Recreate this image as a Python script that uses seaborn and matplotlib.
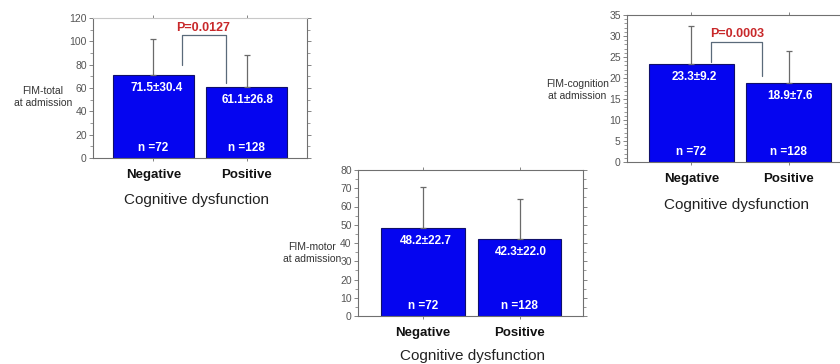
import matplotlib
matplotlib.use("Agg")
import matplotlib.pyplot as plt
from matplotlib.ticker import MultipleLocator
import seaborn as sns
import pandas as pd

# ---- data ----
categories = ["Negative", "Positive"]
n_counts = [72, 128]
total_mean = [71.5, 61.1]
total_sd = [30.4, 26.8]
motor_mean = [48.2, 42.3]
motor_sd = [22.7, 22.0]
cog_mean = [23.3, 18.9]
cog_sd = [9.2, 7.6]
p_total = "P=0.0127"
p_cog = "P=0.0003"
x_title = "Cognitive dysfunction"

sns.set_theme(style="white")
plt.rcParams['font.family'] = ['Liberation Sans', 'DejaVu Sans']
NARROW = ['Liberation Sans Narrow', 'Liberation Sans', 'DejaVu Sans']

W, H = 840, 364
fig = plt.figure(figsize=(W / 100, H / 100), dpi=100)

BAR = "#0505f0"
EDGE = "#10106a"
ERR = "#6a6a6a"
SPINE = "#707070"
BRK = "#5a6a7a"
PRED = "#c8282a"


def px_axes(l, t, r, b):
    return fig.add_axes([l / W, 1 - b / H, (r - l) / W, (b - t) / H])


def panel(ax, means, sds, ymax, major, minor, xlim, top_spine_color):
    df = pd.DataFrame({"group": categories, "value": means})
    sns.barplot(data=df, x="group", y="value", ax=ax, color=BAR, saturation=1,
                width=0.87, edgecolor=EDGE, linewidth=0.8, errorbar=None)
    ax.errorbar(x=[0, 1], y=means, yerr=[[0, 0], sds], fmt="none",
                ecolor=ERR, elinewidth=0.9, capsize=2, capthick=0.9, zorder=1)
    ax.set_ylim(0, ymax)
    ax.set_xlim(*xlim)
    ax.yaxis.set_major_locator(MultipleLocator(major))
    ax.yaxis.set_minor_locator(MultipleLocator(minor))
    ax.tick_params(axis="y", which="major", direction="out", length=3, width=0.6,
                   color=SPINE, left=True, right=True, labelsize=7.5,
                   labelcolor="#555555", pad=1.5)
    ax.tick_params(axis="y", which="minor", direction="out", length=2, width=0.5,
                   color=SPINE, left=True, right=True)
    ax.tick_params(axis="x", which="major", direction="out", length=2, width=0.6,
                   color=SPINE, bottom=True, top=True, labelsize=9.5, pad=6,
                   labelcolor="#111111")
    for lab in ax.get_yticklabels():
        lab.set_family(NARROW)
    for lab in ax.get_xticklabels():
        lab.set_fontweight("bold")
    ax.set_xlabel("")
    ax.set_ylabel("")
    for s in ["left", "right", "bottom"]:
        ax.spines[s].set_color(SPINE)
        ax.spines[s].set_linewidth(0.8)
    ax.spines["top"].set_color(top_spine_color)
    ax.spines["top"].set_linewidth(0.8)
    for i, (m, sd, n) in enumerate(zip(means, sds, n_counts)):
        ax.annotate(f"{m}\u00b1{sd}", xy=(i, m), xytext=(2 if i == 0 else 1, -9.5),
                    textcoords="offset points", ha="center", va="center",
                    color="white", fontweight="bold", fontsize=8.5)
        ax.annotate(f"n ={n}", xy=(i, 0), xytext=(0, 7.5),
                    textcoords="offset points", ha="center", va="center",
                    color="white", fontweight="bold", fontsize=8.5)


def bracket(ax, xl, yl, xr, yr, ytop, text, xt):
    ax.plot([xl, xl, xr, xr], [yl, ytop, ytop, yr], color=BRK, lw=0.9, zorder=3)
    ax.annotate(text, xy=(xt, ytop), xytext=(0, 1), textcoords="offset points",
                color=PRED, fontweight="bold", fontsize=9,
                ha="center", va="bottom", zorder=4)


def ylab(x_right, y, text):
    fig.text(x_right / W, 1 - y / H, text, ha="right", va="center",
             multialignment="center", fontsize=7.5, color="#333333",
             linespacing=1.2)


# Panel 1: FIM-total
ax1 = px_axes(93, 18, 307, 158)
panel(ax1, total_mean, total_sd, 120, 20, 10, (-0.65, 1.65), "#c8c8c8")
bracket(ax1, 0.306, 79.7, 0.78, 64.3, 105.4, p_total, 0.53)
ylab(72, 97, "FIM-total\nat admission")
fig.text(197 / W, 1 - 200 / H, x_title, ha="center", va="center",
         fontsize=11, color="#222222")

# Panel 2: FIM-cognition
ax2 = px_axes(627, 15, 853, 162)
panel(ax2, cog_mean, cog_sd, 35, 5, 1, (-0.66, 1.66), SPINE)
bracket(ax2, 0.2, 23.8, 0.73, 20.5, 28.6, p_cog, 0.47)
ylab(609, 90, "FIM-cognition\nat admission")
fig.text(737 / W, 1 - 205 / H, x_title, ha="center", va="center",
         fontsize=11, color="#222222")

# Panel 3: FIM-motor
ax3 = px_axes(358, 170, 583, 316)
panel(ax3, motor_mean, motor_sd, 80, 10, 5, (-0.674, 1.658), SPINE)
ylab(341, 253, "FIM-motor\nat admission")
fig.text(472 / W, 1 - 356 / H, x_title, ha="center", va="center",
         fontsize=11, color="#222222")

fig.savefig("out.png", dpi=100, facecolor="white")
